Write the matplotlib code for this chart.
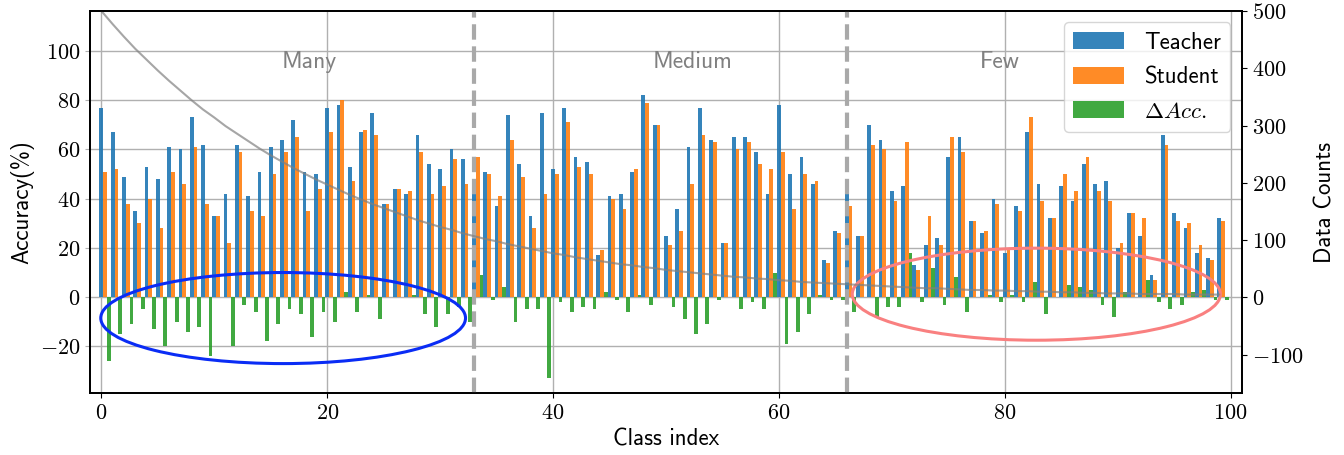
import matplotlib
matplotlib.use("Agg")
import matplotlib.pyplot as plt
import numpy as np
from matplotlib.patches import Ellipse

plt.rcParams['mathtext.fontset'] = 'cm'

# per-class accuracy (%)
teacher = [77, 67, 49, 35, 53, 48, 61, 60, 73, 62, 33, 42, 62, 41, 51, 61, 64, 72, 51, 50,
           77, 78, 53, 67, 75, 38, 44, 42, 66, 54, 52, 60, 56, 48, 51, 37, 74, 54, 33, 75,
           52, 77, 57, 55, 17, 41, 42, 51, 82, 70, 25, 36, 61, 77, 64, 22, 65, 65, 59, 42,
           78, 50, 57, 46, 15, 27, 43, 25, 70, 64, 43, 45, 13, 21, 24, 57, 65, 31, 26, 40,
           18, 37, 67, 46, 32, 45, 39, 54, 46, 47, 20, 34, 25, 9, 66, 34, 28, 18, 16, 32]
student = [51, 52, 38, 30, 40, 28, 51, 46, 61, 38, 33, 22, 59, 35, 33, 50, 59, 65, 35, 44,
           67, 80, 47, 68, 66, 38, 44, 43, 59, 42, 45, 56, 46, 57, 50, 41, 64, 49, 28, 42,
           50, 71, 53, 50, 19, 40, 36, 52, 79, 70, 21, 27, 46, 66, 63, 22, 60, 63, 54, 52,
           59, 36, 50, 47, 14, 26, 37, 25, 62, 60, 39, 63, 11, 33, 21, 65, 59, 31, 27, 38,
           19, 35, 73, 39, 32, 50, 43, 57, 43, 39, 22, 34, 32, 7, 62, 31, 30, 21, 15, 31]
delta = [-26, -15, -11, -5, -13, -20, -10, -14, -12, -24, 0, -20, -3, -6, -18, -11, -5, -7, -16, -6,
         -10, 2, -6, 1, -9, 0, 0, 1, -7, -12, -7, -4, -10, 9, -1, 4, -10, -5, -5, -33,
         -2, -6, -4, -5, 2, -1, -6, 1, -3, 0, -4, -9, -15, -11, -1, 0, -5, -2, -5, 10,
         -19, -14, -7, 1, -1, -1, -6, 0, -8, -4, -4, 18, -2, 12, -3, 8, -6, 0, 1, -2,
         1, -2, 6, -7, 0, 5, 4, 3, -3, -8, 2, 0, 7, -2, -5, -3, 2, 3, -1, -1]
# training samples per class (long-tailed)
counts = [500, 477, 455, 434, 415, 396, 378, 361, 344, 328, 314, 299, 286, 273, 260, 248, 237, 226, 216, 206,
          197, 188, 179, 171, 163, 156, 149, 142, 135, 129, 123, 118, 112, 107, 102, 98, 93, 89, 85, 81,
          77, 74, 70, 67, 64, 61, 58, 56, 53, 51, 48, 46, 44, 42, 40, 38, 36, 35, 33, 32,
          30, 29, 27, 26, 25, 24, 23, 22, 21, 20, 19, 18, 17, 16, 16, 15, 14, 13, 13, 12,
          12, 11, 11, 10, 10, 9, 9, 8, 8, 7, 7, 7, 6, 6, 6, 6, 5, 5, 5, 5]
splits = [33, 66]
groups = ['Many', 'Medium', 'Few']
group_x = [18.4, 52.4, 79.6]

idx = np.arange(len(teacher))
w = 1 / 3

fig = plt.figure(figsize=(13.44, 4.55), dpi=100)
ax = fig.add_axes([0.067, 0.136, 0.857, 0.84])

ax.grid(True, color='#b0b0b0', lw=1, zorder=0)
ax.bar(idx, teacher, w, color='tab:blue', alpha=0.9, label='Teacher', zorder=2)
ax.bar(idx + w, student, w, color='tab:orange', alpha=0.9, label='Student', zorder=2)
ax.bar(idx + 2 * w, delta, w, color='tab:green', alpha=0.9, label=r'$\Delta Acc.$', zorder=2)

for s in splits:
    ax.axvline(s, color='#a9a9a9', lw=3, ls='--', zorder=3)
for name, gx in zip(groups, group_x):
    ax.text(gx, 95.5, name, ha='center', va='center', fontsize=17, color='gray', family='cmss10')

ax.add_patch(Ellipse((16.1, -8.5), 32.3, 37, fill=False, ec='#0a2cf5', lw=2.2, zorder=4))
ax.add_patch(Ellipse((82.8, 1.2), 32.6, 37.4, fill=False, ec='#f98080', lw=2.2, zorder=4))

ax.set_xlim(-1, 101)
ax.set_ylim(-39, 116.3)
xt = [0, 20, 40, 60, 80, 100]
yt = [-20, 0, 20, 40, 60, 80, 100]
ax.set_xticks(xt)
ax.set_xticklabels([f'${t}$' for t in xt], fontsize=16)
ax.set_yticks(yt)
ax.set_yticklabels([f'${t}$' for t in yt], fontsize=16)
ax.tick_params(axis='y', color='#b0b0b0')
ax.set_xlabel('Class index', fontsize=16.5, family='cmss10', labelpad=4)
ax.set_ylabel('Accuracy(%)', fontsize=16.5, family='cmss10', labelpad=4)

leg = ax.legend(loc='upper right', prop={'family': 'cmss10', 'size': 16.5},
                handlelength=2.2, handleheight=0.75, handletextpad=0.9, labelspacing=0.55)

ax2 = ax.twinx()
ax2.plot(idx, counts, color='gray', alpha=0.7, lw=1.5)
ax2.set_ylim(-167, 500)
rt = [-100, 0, 100, 200, 300, 400, 500]
ax2.set_yticks(rt)
ax2.set_yticklabels([f'${t}$' for t in rt], fontsize=16)
ax2.set_ylabel('Data Counts', fontsize=16.5, family='cmss10', labelpad=8)

for a in (ax, ax2):
    for sp in a.spines.values():
        sp.set_linewidth(1.3)

fig.savefig('out.png', dpi=100)
